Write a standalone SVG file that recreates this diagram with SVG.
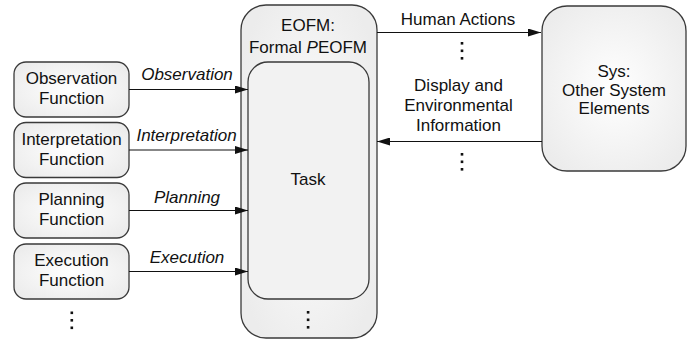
<svg xmlns="http://www.w3.org/2000/svg" width="698" height="340" viewBox="0 0 698 340">
  <defs>
    <radialGradient id="boxFill" cx="0.5" cy="0.5" r="0.6">
      <stop offset="0" stop-color="#ffffff"/>
      <stop offset="1" stop-color="#ececec"/>
    </radialGradient>
    <marker id="arrow" viewBox="0 0 13 8" refX="13" refY="4" markerWidth="13" markerHeight="8" markerUnits="userSpaceOnUse" orient="auto">
      <path d="M0,0 L13,4 L0,8 Z" fill="#111"/>
    </marker>
  </defs>
  <style>
    .box { fill: url(#boxFill); stroke: #3a3a3a; stroke-width: 1.3; }
    .task { fill: #f2f2f2; stroke: #3a3a3a; stroke-width: 1.3; }
    .lbl { font-family: "Liberation Sans", Arial, sans-serif; font-size: 17px; fill: #111; text-anchor: middle; }
    .it { font-style: italic; }
    .link { stroke: #111; stroke-width: 1.2; fill: none; marker-end: url(#arrow); }
    .dot { fill: #111; }
  </style>

  <rect width="698" height="340" fill="#ffffff"/>

  <!-- EOFM container with the Task inside -->
  <g id="eofm">
    <rect class="box" x="241" y="5" width="136" height="333" rx="25" ry="25"/>
    <text class="lbl" x="308" y="31">EOFM:</text>
    <text class="lbl" x="308" y="53">Formal <tspan class="it">P</tspan>EOFM</text>
    <rect class="dot" x="306.8" y="311" width="2.6" height="2.6"/>
    <rect class="dot" x="306.8" y="318.5" width="2.6" height="2.6"/>
    <rect class="dot" x="306.8" y="326" width="2.6" height="2.6"/>
  </g>
  <g id="task">
    <rect class="task" x="248" y="62" width="121" height="237" rx="20" ry="20"/>
    <text class="lbl" x="308" y="185">Task</text>
  </g>

  <!-- Cognitive function nodes -->
  <g id="observation">
    <rect class="box" x="14" y="62" width="115" height="55" rx="12" ry="12"/>
    <text class="lbl" x="71.5" y="84">Observation</text>
    <text class="lbl" x="71.5" y="104">Function</text>
  </g>
  <g id="interpretation">
    <rect class="box" x="14" y="122.5" width="115" height="55" rx="12" ry="12"/>
    <text class="lbl" x="71.5" y="144.5">Interpretation</text>
    <text class="lbl" x="71.5" y="164.5">Function</text>
  </g>
  <g id="planning">
    <rect class="box" x="14" y="183" width="115" height="55" rx="12" ry="12"/>
    <text class="lbl" x="71.5" y="205">Planning</text>
    <text class="lbl" x="71.5" y="225">Function</text>
  </g>
  <g id="execution">
    <rect class="box" x="14" y="244" width="115" height="55" rx="12" ry="12"/>
    <text class="lbl" x="71.5" y="266">Execution</text>
    <text class="lbl" x="71.5" y="286">Function</text>
  </g>
  <g id="more-functions">
    <rect class="dot" x="70.5" y="311.5" width="2.6" height="2.6"/>
    <rect class="dot" x="70.5" y="319" width="2.6" height="2.6"/>
    <rect class="dot" x="70.5" y="326.5" width="2.6" height="2.6"/>
  </g>

  <!-- Other system elements -->
  <g id="sys">
    <rect class="box" x="542" y="6" width="144" height="165" rx="25" ry="25"/>
    <text class="lbl" x="614" y="77">Sys:</text>
    <text class="lbl" x="614" y="95.5">Other System</text>
    <text class="lbl" x="614" y="114">Elements</text>
  </g>

  <!-- Connectors -->
  <g id="connectors">
    <line class="link" x1="129" y1="89.5" x2="248" y2="89.5"/>
    <text class="lbl it" x="187" y="80">Observation</text>
    <line class="link" x1="129" y1="150" x2="248" y2="150"/>
    <text class="lbl it" x="186.5" y="141">Interpretation</text>
    <line class="link" x1="129" y1="210.5" x2="248" y2="210.5"/>
    <text class="lbl it" x="187" y="203">Planning</text>
    <line class="link" x1="129" y1="271.5" x2="248" y2="271.5"/>
    <text class="lbl it" x="187" y="263">Execution</text>

    <line class="link" x1="377" y1="32.5" x2="541" y2="32.5"/>
    <text class="lbl" x="458" y="25">Human Actions</text>
    <rect class="dot" x="460.7" y="42" width="2.6" height="2.6"/>
    <rect class="dot" x="460.7" y="49.5" width="2.6" height="2.6"/>
    <rect class="dot" x="460.7" y="57" width="2.6" height="2.6"/>

    <line class="link" x1="542" y1="141.5" x2="377" y2="141.5"/>
    <text class="lbl" x="458.5" y="91">Display and</text>
    <text class="lbl" x="458.5" y="111">Environmental</text>
    <text class="lbl" x="458.5" y="131">Information</text>
    <rect class="dot" x="460.7" y="153" width="2.6" height="2.6"/>
    <rect class="dot" x="460.7" y="160.5" width="2.6" height="2.6"/>
    <rect class="dot" x="460.7" y="168" width="2.6" height="2.6"/>
  </g>
</svg>
